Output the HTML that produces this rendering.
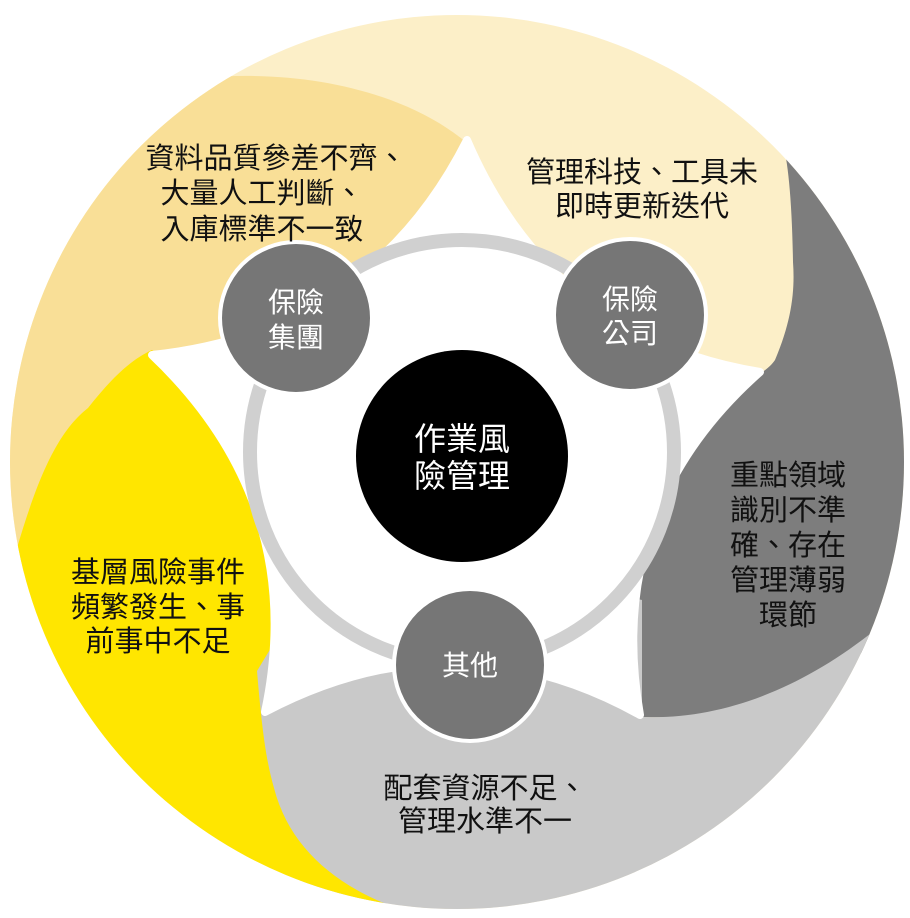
<!DOCTYPE html>
<html><head><meta charset="utf-8"><style>
html,body{margin:0;padding:0;background:#fff;}
svg{display:block;}
text{font-family:"Liberation Sans","Noto Sans CJK TC",sans-serif;}
</style></head><body>
<svg width="910" height="918" viewBox="0 0 910 918" xmlns="http://www.w3.org/2000/svg">
<defs><clipPath id="c"><circle cx="457" cy="462" r="447"/></clipPath></defs>
<g clip-path="url(#c)">
<rect x="0" y="0" width="910" height="918" fill="#FCEFC8"/>
<path d="M-50,700 L-50,-50 L100,-50 L110,95 C250,55 400,80 475,150 L455,330 L150,355 Z" fill="#F9DF97"/>
<path d="M770,80 L960,80 L960,700 L880,640 C800,700 720,720 642,717 L560,600 L600,420 L700,395 C740,385 765,375 775,360 C792,320 795,290 793,262 C792,200 788,160 782,140 Z" fill="#7D7D7D"/>
<path d="M875,630 L960,620 L960,960 L300,960 L300,880 C290,850 270,800 262,760 L250,600 L470,560 L642,600 L642,717 C720,720 800,690 875,630 Z" fill="#C9C9C9"/>
<path d="M-50,548 L17,548 C40,470 60,430 88,408 C110,380 130,360 152,350 L320,470 L300,600 L257,671 C262,730 266,760 274,788 C290,850 340,890 408,912 L408,960 L-50,960 Z" fill="#FFE600"/>
</g>
<path d="M467,140 Q552,338 760,372 Q604,510 640,715 Q455,612 265,712 Q309,504 152,355 Q370,332 467,140 Z" fill="#fff" stroke="#fff" stroke-width="8" stroke-linejoin="round"/>
<circle cx="462" cy="452" r="212" fill="none" stroke="#D0D0D0" stroke-width="14"/>
<circle cx="462" cy="456" r="106" fill="#000"/>
<circle cx="296" cy="318" r="76" fill="#767676" stroke="#fff" stroke-width="4"/>
<circle cx="630" cy="315" r="76" fill="#767676" stroke="#fff" stroke-width="4"/>
<circle cx="470" cy="665" r="76" fill="#767676" stroke="#fff" stroke-width="4"/>
<g fill="#fff" font-size="28" text-anchor="middle">
<text x="296" y="312">保險</text><text x="296" y="347">集團</text>
<text x="630" y="309">保險</text><text x="630" y="343">公司</text>
<text x="470" y="675">其他</text>
<text x="462" y="450" font-size="32">作業風</text><text x="462" y="487" font-size="32">險管理</text>
</g>
<g fill="#111" font-size="29" text-anchor="middle">
<text x="276" y="168">資料品質參差不齊、</text>
<text x="262" y="203">大量人工判斷、</text>
<text x="262" y="239">入庫標準不一致</text>
<text x="642" y="182">管理科技、工具未</text>
<text x="642" y="216">即時更新迭代</text>
<text x="788" y="485">重點領域</text>
<text x="788" y="520">識別不準</text>
<text x="788" y="555">確、存在</text>
<text x="788" y="590">管理薄弱</text>
<text x="788" y="625">環節</text>
<text x="158" y="582">基層風險事件</text>
<text x="158" y="617">頻繁發生、事</text>
<text x="158" y="651">前事中不足</text>
<text x="485" y="798">配套資源不足、</text>
<text x="485" y="831">管理水準不一</text>
</g>
</svg>
</body></html>
